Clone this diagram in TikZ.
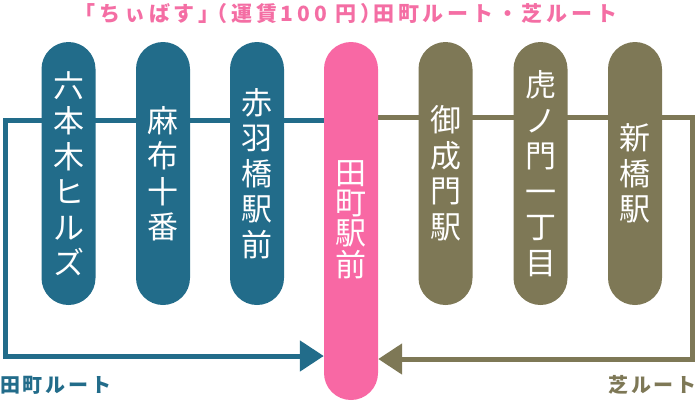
\documentclass[tikz,border=0pt]{standalone}
\usepackage{fontspec}
\usetikzlibrary{arrows.meta}
\newfontfamily\jp{Noto Sans CJK JP}
\newfontfamily\jpb[LetterSpace=14]{Noto Sans CJK JP}
\newfontfamily\jpt[LetterSpace=18]{Noto Sans CJK JP}
\definecolor{tblue}{RGB}{34,108,138}
\definecolor{tolive}{RGB}{126,120,86}
\definecolor{tpink}{RGB}{248,104,164}
\definecolor{ttitle}{RGB}{244,110,164}
\pgfdeclarelayer{bg}
\pgfsetlayers{bg,main}
\tikzset{
  pill/.style={minimum width=54pt, rounded corners=27pt, inner sep=0pt, text=white,
    font=\jp\fontsize{31}{35.5}\selectfont, align=center},
  shortpill/.style={pill, minimum height=263pt},
  route/.style={line width=5pt},
  tip/.style={-{Triangle[length=24pt,width=30pt]}},
  lbl/.style={inner sep=0pt, font=\jpb\bfseries\fontsize{20}{24}\selectfont}
}
\begin{document}
\begin{tikzpicture}[x=1pt,y=-1pt]
\useasboundingbox (0,0) rectangle (697,400);
\node[lbl, text=ttitle, font=\jpt\bfseries\fontsize{21}{24}\selectfont] (title) at (346,13.5) {「ちぃばす」\hspace{-13pt}（運賃100 円）\hspace{-8pt}田町ルート・芝ルート};
\node[shortpill, fill=tblue] (p1) at (68.5,173.5) {六\\本\\木\\ヒ\\ル\\ズ};
\node[shortpill, fill=tblue] (p2) at (163,173.5) {麻\\布\\十\\番};
\node[shortpill, fill=tblue] (p3) at (257,173.5) {赤\\羽\\橋\\駅\\前};
\node[pill, minimum height=358pt, fill=tpink] (p4) at (351,221) {\raisebox{5pt}{\shortstack{田\\町\\駅\\前}}};
\node[shortpill, fill=tolive] (p5) at (445.5,173.5) {御\\成\\門\\駅};
\node[shortpill, fill=tolive] (p6) at (540.5,173.5) {虎\\ノ\\門\\一\\丁\\目};
\node[shortpill, fill=tolive] (p7) at (635,173.5) {新\\橋\\駅};
\node[lbl, text=tblue, anchor=west] (lt) at (0,385) {田町ルート};
\node[lbl, text=tolive, anchor=east] (ls) at (697,385) {芝ルート};
\coordinate (b1) at (5.5,120.5);
\coordinate (b2) at (5.5,356);
\coordinate (o1) at (692,117.5);
\coordinate (o2) at (692,359);
\begin{pgfonlayer}{bg}
\draw[route, tblue, tip] (p4.west |- b1) -- (b1) -- (b2) -- (p4.west |- b2);
\draw[route, tolive, tip] (p4.east |- o1) -- (o1) -- (o2) -- (p4.east |- o2);
\end{pgfonlayer}
\end{tikzpicture}
\end{document}
